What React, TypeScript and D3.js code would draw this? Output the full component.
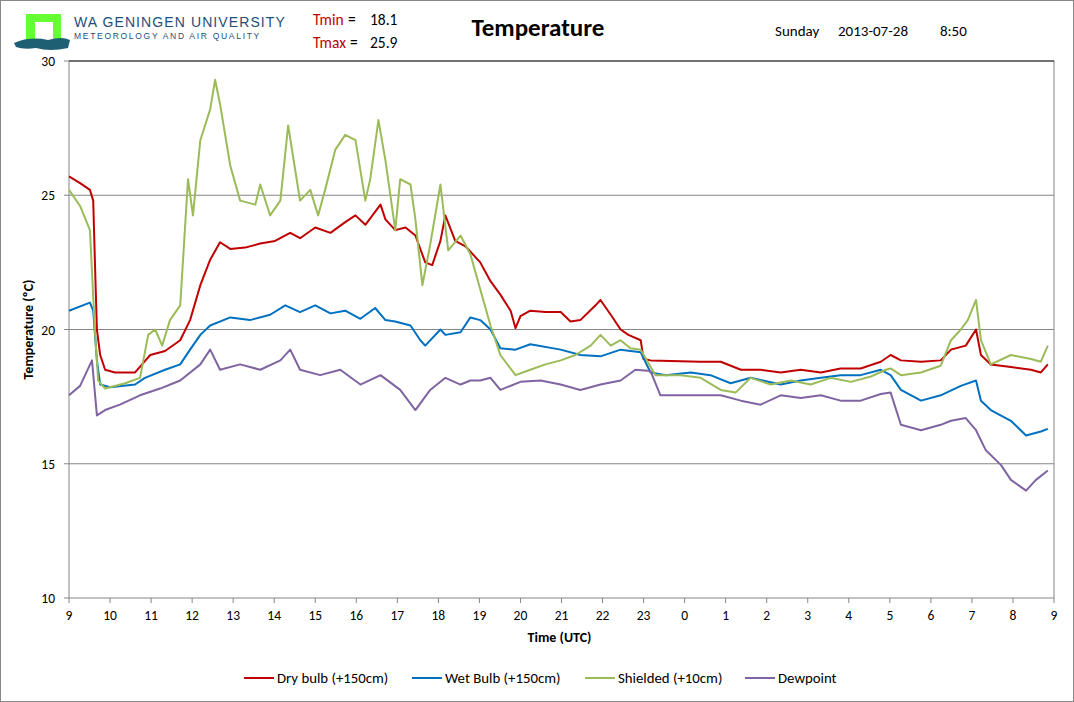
import React from "react";
import * as d3 from "d3";

// hours since 09:00 UTC, °C
const dryBulb: [number, number][] = [
  [0, 25.7], [0.27, 25.45], [0.51, 25.2], [0.59, 24.8], [0.63, 22.6], [0.68, 20.0], [0.76, 19.05], [0.88, 18.5],
  [1.12, 18.4], [1.61, 18.4], [1.78, 18.7], [1.98, 19.05], [2.34, 19.2], [2.71, 19.6], [2.95, 20.35], [3.2, 21.65],
  [3.44, 22.6], [3.68, 23.25], [3.93, 23.0], [4.29, 23.05], [4.66, 23.2], [5.02, 23.3], [5.39, 23.6], [5.63, 23.4],
  [6.0, 23.8], [6.37, 23.6], [6.73, 24.0], [6.98, 24.25], [7.22, 23.9], [7.59, 24.65], [7.71, 24.1], [7.95, 23.7],
  [8.2, 23.8], [8.44, 23.5], [8.68, 22.5], [8.85, 22.4], [9.05, 23.3], [9.17, 24.25], [9.41, 23.3], [9.66, 23.1],
  [10.02, 22.5], [10.27, 21.8], [10.51, 21.3], [10.76, 20.7], [10.88, 20.05], [11.0, 20.5], [11.24, 20.7],
  [11.61, 20.65], [11.98, 20.65], [12.22, 20.3], [12.46, 20.35], [12.83, 20.9], [12.95, 21.1], [13.2, 20.55],
  [13.44, 20.0], [13.63, 19.8], [13.93, 19.6], [14.0, 18.9], [14.17, 18.85], [15.39, 18.8], [15.88, 18.8],
  [16.37, 18.5], [16.85, 18.5], [17.34, 18.4], [17.83, 18.5], [18.32, 18.4], [18.8, 18.55], [19.29, 18.55],
  [19.78, 18.8], [20.02, 19.05], [20.27, 18.85], [20.76, 18.8], [21.24, 18.85], [21.49, 19.25], [21.85, 19.4],
  [22.1, 20.0], [22.22, 19.05], [22.46, 18.7], [22.95, 18.6], [23.44, 18.5], [23.68, 18.4], [23.85, 18.7],
];

const wetBulb: [number, number][] = [
  [0, 20.7], [0.51, 21.0], [0.59, 20.7], [0.68, 18.85], [0.76, 17.95], [1.0, 17.85], [1.61, 17.95], [1.85, 18.2],
  [2.34, 18.5], [2.71, 18.7], [2.95, 19.25], [3.2, 19.8], [3.44, 20.15], [3.93, 20.45], [4.41, 20.35], [4.9, 20.55],
  [5.27, 20.9], [5.63, 20.65], [6.0, 20.9], [6.37, 20.6], [6.73, 20.7], [7.1, 20.4], [7.46, 20.8], [7.71, 20.35],
  [7.95, 20.3], [8.32, 20.15], [8.56, 19.6], [8.68, 19.4], [9.05, 20.0], [9.17, 19.8], [9.54, 19.9], [9.78, 20.45],
  [10.02, 20.35], [10.27, 20.0], [10.51, 19.3], [10.88, 19.25], [11.24, 19.45], [11.98, 19.25], [12.46, 19.05],
  [12.95, 19.0], [13.44, 19.25], [13.93, 19.15], [14.17, 18.4], [14.54, 18.3], [15.15, 18.4], [15.63, 18.3],
  [16.12, 18.0], [16.61, 18.2], [17.34, 17.95], [17.83, 18.1], [18.32, 18.2], [18.8, 18.3], [19.29, 18.3],
  [19.78, 18.5], [20.02, 18.3], [20.27, 17.75], [20.76, 17.35], [21.24, 17.55], [21.73, 17.9], [22.1, 18.1],
  [22.22, 17.35], [22.46, 17.0], [22.95, 16.6], [23.32, 16.05], [23.68, 16.2], [23.85, 16.3],
];

const shielded: [number, number][] = [
  [0, 25.2], [0.27, 24.6], [0.51, 23.7], [0.63, 20.0], [0.71, 18.1], [0.88, 17.8], [1.37, 18.0], [1.73, 18.2],
  [1.93, 19.8], [2.1, 20.0], [2.27, 19.4], [2.46, 20.35], [2.71, 20.9], [2.9, 25.6], [3.02, 24.25], [3.2, 27.05],
  [3.44, 28.2], [3.56, 29.3], [3.68, 28.4], [3.93, 26.1], [4.17, 24.8], [4.54, 24.65], [4.66, 25.4], [4.9, 24.25],
  [5.15, 24.8], [5.34, 27.6], [5.51, 25.95], [5.63, 24.8], [5.88, 25.2], [6.07, 24.25], [6.24, 25.2], [6.49, 26.7],
  [6.73, 27.25], [6.98, 27.05], [7.22, 24.8], [7.34, 25.6], [7.54, 27.8], [7.71, 26.3], [7.95, 23.7], [8.07, 25.6],
  [8.32, 25.4], [8.44, 24.1], [8.61, 21.65], [8.8, 23.15], [9.05, 25.4], [9.24, 22.95], [9.54, 23.5], [9.78, 22.8],
  [10.02, 21.5], [10.27, 20.15], [10.51, 19.05], [10.88, 18.3], [11.24, 18.5], [11.61, 18.7], [11.98, 18.85],
  [12.34, 19.05], [12.71, 19.4], [12.95, 19.8], [13.2, 19.4], [13.44, 19.6], [13.68, 19.3], [13.93, 19.25],
  [14.29, 18.3], [14.9, 18.3], [15.39, 18.2], [15.88, 17.75], [16.24, 17.65], [16.61, 18.2], [17.1, 17.95],
  [17.59, 18.1], [18.07, 17.95], [18.56, 18.2], [19.05, 18.05], [19.54, 18.25], [19.9, 18.5], [20.02, 18.55],
  [20.27, 18.3], [20.76, 18.4], [21.24, 18.65], [21.49, 19.6], [21.73, 20.0], [21.9, 20.35], [22.1, 21.1],
  [22.22, 19.6], [22.46, 18.7], [22.95, 19.05], [23.44, 18.9], [23.68, 18.8], [23.85, 19.4],
];

const dewpoint: [number, number][] = [
  [0, 17.55], [0.27, 17.9], [0.56, 18.85], [0.68, 16.8], [0.88, 17.0], [1.24, 17.2], [1.73, 17.55], [2.22, 17.8],
  [2.71, 18.1], [3.2, 18.7], [3.44, 19.25], [3.68, 18.5], [4.17, 18.7], [4.66, 18.5], [5.15, 18.85], [5.39, 19.25],
  [5.63, 18.5], [6.12, 18.3], [6.61, 18.5], [7.1, 17.95], [7.59, 18.3], [8.07, 17.75], [8.44, 17.0], [8.8, 17.75],
  [9.17, 18.2], [9.54, 17.95], [9.78, 18.1], [10.02, 18.1], [10.27, 18.2], [10.51, 17.75], [11.0, 18.05],
  [11.49, 18.1], [11.98, 17.95], [12.46, 17.75], [12.95, 17.95], [13.44, 18.1], [13.8, 18.5], [14.17, 18.45],
  [14.41, 17.55], [14.9, 17.55], [15.39, 17.55], [15.88, 17.55], [16.37, 17.35], [16.85, 17.2], [17.34, 17.55],
  [17.83, 17.45], [18.32, 17.55], [18.8, 17.35], [19.29, 17.35], [19.78, 17.6], [20.02, 17.65], [20.27, 16.45],
  [20.76, 16.25], [21.24, 16.45], [21.49, 16.6], [21.85, 16.7], [22.1, 16.25], [22.34, 15.5], [22.71, 14.95],
  [22.95, 14.4], [23.32, 14.0], [23.56, 14.4], [23.85, 14.75],
];

const series = [
  { name: "Dry bulb (+150cm)", color: "#c00000", data: dryBulb },
  { name: "Wet Bulb (+150cm)", color: "#0070c0", data: wetBulb },
  { name: "Shielded (+10cm)", color: "#9bbb59", data: shielded },
  { name: "Dewpoint", color: "#8064a2", data: dewpoint },
];

const hourLabels = [9, 10, 11, 12, 13, 14, 15, 16, 17, 18, 19, 20, 21, 22, 23, 0, 1, 2, 3, 4, 5, 6, 7, 8, 9];
const yTicks = [10, 15, 20, 25, 30];
const font = "Calibri, Carlito, 'Liberation Sans Narrow', 'Liberation Sans', sans-serif";

export default function App() {
  const W = 1074, H = 702;
  const m = { left: 69, right: 1054, top: 61, bottom: 598 };
  const x = d3.scaleLinear().domain([0, 24]).range([m.left, m.right]);
  const y = d3.scaleLinear().domain([10, 30]).range([m.bottom, m.top]);
  const line = d3.line<[number, number]>().x((d) => x(d[0])).y((d) => y(d[1]));
  const legendX = [244, 412, 585, 745];

  return (
    <svg width={W} height={H} style={{ position: "absolute", left: 0, top: 0, fontFamily: font }}>
      <rect x={0.5} y={0.5} width={W - 1} height={H - 1} fill="#fff" stroke="#888" />
      {/* logo */}
      <path d="M26,14 H61 V41 H53 V22 H35 V41 H26 Z" fill="#66ff33" />
      <path d="M14,43 Q30,36 48,40 Q62,36 70,40 L68,48 Q50,52 36,48 Q24,50 16,47 Z" fill="#1f5f73" />
      <text x={74} y={27} fontSize={14} fill="#1f4e79" letterSpacing={1.1} fontFamily="'Liberation Sans', sans-serif">WA GENINGEN UNIVERSITY</text>
      <text x={74} y={39} fontSize={8.5} fill="#1f4e79" letterSpacing={1.7} fontFamily="'Liberation Sans', sans-serif">METEOROLOGY AND AIR QUALITY</text>
      <text x={313} y={25} fontSize={15.5} fill="#c00000">Tmin</text>
      <text x={348} y={25} fontSize={15.5}>=</text>
      <text x={370} y={25} fontSize={15.5}>18.1</text>
      <text x={313} y={48} fontSize={15.5} fill="#c00000">Tmax</text>
      <text x={350} y={48} fontSize={15.5}>=</text>
      <text x={370} y={48} fontSize={15.5}>25.9</text>
      <text x={538} y={36} fontSize={25} fontWeight="bold" textAnchor="middle">Temperature</text>
      <text x={775} y={36} fontSize={15}>Sunday</text>
      <text x={838} y={36} fontSize={15}>2013-07-28</text>
      <text x={940} y={36} fontSize={15}>8:50</text>

      {yTicks.map((t) => (
        <g key={t}>
          {t > 10 && t < 30 && <line x1={m.left} x2={m.right} y1={y(t)} y2={y(t)} stroke="#868686" />}
          <line x1={m.left - 5} x2={m.left} y1={y(t)} y2={y(t)} stroke="#868686" />
          <text x={m.left - 14} y={y(t) + 5} fontSize={13.5} textAnchor="end">{t}</text>
        </g>
      ))}
      <rect x={m.left} y={m.top} width={m.right - m.left} height={m.bottom - m.top} fill="none" stroke="#868686" />
      <line x1={m.left} x2={m.right} y1={m.top} y2={m.top} stroke="#222" />
      {hourLabels.map((h, i) => (
        <g key={i}>
          <line x1={x(i)} x2={x(i)} y1={m.bottom} y2={m.bottom + 5} stroke="#868686" />
          <text x={x(i)} y={m.bottom + 22} fontSize={13.5} textAnchor="middle">{h}</text>
        </g>
      ))}
      {series.map((s) => (
        <path key={s.name} d={line(s.data) || ""} fill="none" stroke={s.color} strokeWidth={2} strokeLinejoin="round" />
      ))}
      <text x={(m.left + m.right) / 2 - 2} y={642} fontSize={14} fontWeight="bold" textAnchor="middle">Time (UTC)</text>
      <text transform={`translate(33,${(m.top + m.bottom) / 2}) rotate(-90)`} fontSize={14} fontWeight="bold" textAnchor="middle">Temperature (ºC)</text>
      {series.map((s, i) => (
        <g key={s.name} transform={`translate(${legendX[i]},678)`}>
          <line x1={0} x2={30} y1={0} y2={0} stroke={s.color} strokeWidth={2} />
          <text x={33} y={5} fontSize={14.8}>{s.name}</text>
        </g>
      ))}
    </svg>
  );
}
